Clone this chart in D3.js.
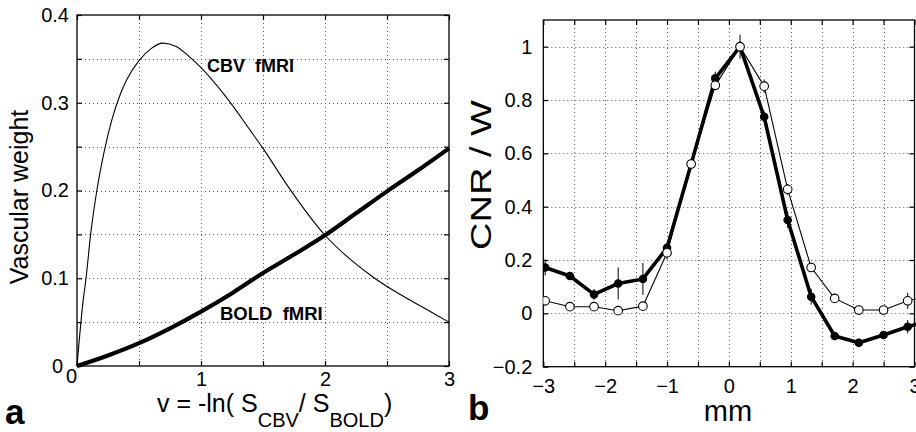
<!DOCTYPE html>
<html><head><meta charset="utf-8">
<script src="https://cdn.jsdelivr.net/npm/d3@7"></script>
<style>
body{margin:0;background:#fff}
svg{display:block}
text{font-family:"Liberation Sans",Arial,Helvetica,sans-serif;fill:#000}
</style>
</head><body><svg id="chart" width="916" height="432"></svg>
<script>
// ---- Panel a data ----
const cbvV = [0, 0.05, 0.073, 0.11, 0.16, 0.22, 0.28, 0.35, 0.4, 0.5, 0.6, 0.69, 0.8, 0.91, 1.0, 1.2, 1.4, 1.5, 1.7, 2.0, 2.2, 2.4, 2.6, 2.8, 3.0];
const cbvW = [0, 0.075, 0.1, 0.15, 0.2, 0.245, 0.28, 0.31, 0.326, 0.348, 0.362, 0.368, 0.364, 0.352, 0.34, 0.307, 0.268, 0.248, 0.205, 0.149, 0.122, 0.1, 0.082, 0.066, 0.05];
const boldV = [0, 0.25, 0.5, 0.75, 1.0, 1.25, 1.5, 1.75, 2.0, 2.25, 2.5, 2.75, 3.0];
const boldW = [0, 0.012, 0.026, 0.043, 0.062, 0.083, 0.106, 0.127, 0.149, 0.174, 0.199, 0.223, 0.248];
const aXTicks = [0, 1, 2, 3];
const aYTicks = [0, 0.1, 0.2, 0.3, 0.4];
const aXMinor = [0, 0.5, 1, 1.5, 2, 2.5, 3];
const aYMinor = [0, 0.05, 0.1, 0.15, 0.2, 0.25, 0.3, 0.35, 0.4];

// ---- Panel b data ----
const mmX     = [-2.97, -2.57, -2.18, -1.79, -1.39, -1.0, -0.61, -0.22, 0.18, 0.57, 0.95, 1.33, 1.71, 2.1, 2.5, 2.89, 3.28];
const openY   = [0.047, 0.025, 0.025, 0.01, 0.027, 0.227, 0.56, 0.855, 1.0, 0.852, 0.465, 0.172, 0.056, 0.0125, 0.0125, 0.047, 0.07];
const filledY = [0.172, 0.14, 0.071, 0.112, 0.129, 0.246, 0.56, 0.881, 1.0, 0.737, 0.35, 0.0625, -0.085, -0.11, -0.081, -0.05, -0.025];
const openErr   = [0.015, 0.01, 0.015, 0.01, 0.01, 0.025, 0.015, 0.015, 0.045, 0.025, 0.02, 0.015, 0.015, 0.01, 0.015, 0.03, 0.02];
const filledErr = [0.03, 0.015, 0.02, 0.06, 0.06, 0.02, 0.015, 0.025, 0.02, 0.02, 0.03, 0.03, 0.015, 0.015, 0.015, 0.025, 0.02];
const bXTicks = [-3, -2, -1, 0, 1, 2, 3];
const bYTicks = [-0.2, 0, 0.2, 0.4, 0.6, 0.8, 1];
const bXMinor = [-3, -2.5, -2, -1.5, -1, -0.5, 0, 0.5, 1, 1.5, 2, 2.5, 3];

const svg = d3.select("#chart");
svg.append("rect").attr("width", 916).attr("height", 432).attr("fill", "#fff");

const snap = v => Math.round(v) + 0.5;
function gridAndFrame(g, x, y, xs, ys) {
  const [x0, x1] = x.range(), [y0, y1] = y.range();
  g.append("g").selectAll("line").data(xs.filter(v => x(v) > x0 + 1 && x(v) < x1 - 1)).join("line")
    .attr("x1", d => snap(x(d))).attr("x2", d => snap(x(d))).attr("y1", y1).attr("y2", y0)
    .attr("stroke", "#555").attr("stroke-width", 1).attr("stroke-dasharray", "1,3");
  g.append("g").selectAll("line").data(ys.filter(v => y(v) < y0 - 1 && y(v) > y1 + 1)).join("line")
    .attr("y1", d => snap(y(d))).attr("y2", d => snap(y(d))).attr("x1", x0).attr("x2", x1)
    .attr("stroke", "#555").attr("stroke-width", 1).attr("stroke-dasharray", "1,3");
}
function styleAxis(ax) {
  ax.select(".domain").remove();
  ax.selectAll(".tick line").attr("stroke", "#000").attr("stroke-width", 1.2);
  ax.selectAll(".tick text").attr("font-size", 20).attr("fill", "#000");
}

// ================= Panel a =================
const xa = d3.scaleLinear().domain([0, 3]).range([77, 449]);
const ya = d3.scaleLinear().domain([0, 0.4]).range([366, 15]);
const ga = svg.append("g");
gridAndFrame(ga, xa, ya, aXMinor, aYMinor);

[[d3.axisBottom(xa).tickValues(aXMinor), `translate(0,366)`],
 [d3.axisTop(xa).tickValues(aXMinor), `translate(0,15)`],
 [d3.axisLeft(ya).tickValues(aYMinor), `translate(77,0)`],
 [d3.axisRight(ya).tickValues(aYMinor), `translate(449,0)`]].forEach(([a, t]) => {
  const ax = ga.append("g").attr("transform", t).call(a.tickSize(-5).tickFormat(""));
  styleAxis(ax);
});
const axaB = ga.append("g").attr("transform", "translate(0,366)")
  .call(d3.axisBottom(xa).tickValues(aXTicks).tickSize(0).tickPadding(6).tickFormat(d3.format("d")));
styleAxis(axaB);
axaB.selectAll(".tick text").filter(d => d === 0).attr("dx", -6).attr("dy", "0.55em");
const axaL = ga.append("g").attr("transform", "translate(77,0)")
  .call(d3.axisLeft(ya).tickValues(aYTicks).tickSize(0).tickPadding(8).tickFormat(d => d === 0 ? "0" : d3.format(".1f")(d)));
styleAxis(axaL);
axaL.selectAll(".tick text").filter(d => d === 0).attr("dx", -6);

ga.append("rect").attr("x", 77).attr("y", 15).attr("width", 372).attr("height", 351)
  .attr("fill", "none").attr("stroke", "#000").attr("stroke-width", 1.3);

const lineA = d3.line().x(d => xa(d[0])).y(d => ya(d[1])).curve(d3.curveMonotoneX);
ga.append("path").datum(cbvV.map((v, i) => [v, cbvW[i]])).attr("d", lineA)
  .attr("fill", "none").attr("stroke", "#000").attr("stroke-width", 1.1);
ga.append("path").datum(boldV.map((v, i) => [v, boldW[i]])).attr("d", lineA)
  .attr("fill", "none").attr("stroke", "#000").attr("stroke-width", 4.2);

ga.append("text").attr("x", 207).attr("y", 72).attr("font-size", 18).attr("font-weight", "bold")
  .style("white-space", "pre").text("CBV  fMRI");
ga.append("text").attr("x", 220).attr("y", 320).attr("font-size", 18.5).attr("font-weight", "bold")
  .style("white-space", "pre").text("BOLD  fMRI");

ga.append("text").attr("transform", "translate(28,197) rotate(-90)").attr("text-anchor", "middle")
  .attr("font-size", 25).text("Vascular weight");

const xl = ga.append("text").attr("x", 157).attr("y", 412).attr("font-size", 25).style("white-space", "pre");
xl.append("tspan").text("v = -ln( S");
xl.append("tspan").attr("dy", 15).attr("font-size", 20).text("CBV");
xl.append("tspan").attr("dy", -15).text("/ S");
xl.append("tspan").attr("dy", 15).attr("font-size", 20).text("BOLD");
xl.append("tspan").attr("dy", -15).text(")");

svg.append("text").attr("x", 5).attr("y", 424).attr("font-size", 35).attr("font-weight", "bold").text("a");

// ================= Panel b =================
const xb = d3.scaleLinear().domain([-3, 3]).range([543.3, 914.5]);
const yb = d3.scaleLinear().domain([-0.2, 1.1]).range([366.7, 20]);
const gb = svg.append("g");
gridAndFrame(gb, xb, yb, bXMinor, bYTicks);

[[d3.axisBottom(xb).tickValues(bXMinor), `translate(0,366.7)`],
 [d3.axisTop(xb).tickValues(bXMinor), `translate(0,20)`],
 [d3.axisLeft(yb).tickValues(bYTicks), `translate(543.3,0)`],
 [d3.axisRight(yb).tickValues(bYTicks), `translate(914.5,0)`]].forEach(([a, t]) => {
  const ax = gb.append("g").attr("transform", t).call(a.tickSize(-5).tickFormat(""));
  styleAxis(ax);
});
const axbB = gb.append("g").attr("transform", "translate(0,366.7)")
  .call(d3.axisBottom(xb).tickValues(bXTicks).tickSize(0).tickPadding(12).tickFormat(d3.format("d")));
styleAxis(axbB);
const axbL = gb.append("g").attr("transform", "translate(543.3,0)")
  .call(d3.axisLeft(yb).tickValues(bYTicks).tickSize(0).tickPadding(11).tickFormat(d => (d === 0 || d === 1) ? String(d) : d3.format(".1f")(d)));
styleAxis(axbL);

gb.append("rect").attr("x", 543.3).attr("y", 20).attr("width", 914.5 - 543.3).attr("height", 346.7)
  .attr("fill", "none").attr("stroke", "#000").attr("stroke-width", 1.3);

svg.append("clipPath").attr("id", "clipb").append("rect")
  .attr("x", 543.3).attr("y", 15).attr("width", 916 - 543.3).attr("height", 360);
const plotB = gb.append("g").attr("clip-path", "url(#clipb)");
const lineB = d3.line().x(d => xb(d[0])).y(d => yb(d[1]));

const filledPts = mmX.map((x, i) => [x, filledY[i], filledErr[i]]);
const openPts = mmX.map((x, i) => [x, openY[i], openErr[i]]);

plotB.append("g").selectAll("line").data(filledPts.concat(openPts)).join("line")
  .attr("x1", d => xb(d[0])).attr("x2", d => xb(d[0]))
  .attr("y1", d => yb(d[1] - d[2])).attr("y2", d => yb(d[1] + d[2]))
  .attr("stroke", "#000").attr("stroke-width", 1);

plotB.append("path").datum(filledPts).attr("d", lineB)
  .attr("fill", "none").attr("stroke", "#000").attr("stroke-width", 3.6).attr("stroke-linejoin", "round");
plotB.append("g").selectAll("circle").data(filledPts).join("circle")
  .attr("cx", d => xb(d[0])).attr("cy", d => yb(d[1])).attr("r", 4.3).attr("fill", "#000");
plotB.append("path").datum(openPts).attr("d", lineB)
  .attr("fill", "none").attr("stroke", "#000").attr("stroke-width", 1.1);
plotB.append("g").selectAll("circle").data(openPts).join("circle")
  .attr("cx", d => xb(d[0])).attr("cy", d => yb(d[1])).attr("r", 4.3)
  .attr("fill", "#fff").attr("stroke", "#000").attr("stroke-width", 1.1);

gb.append("text").attr("transform", "translate(491,175) rotate(-90)").attr("text-anchor", "middle")
  .attr("font-size", 30).attr("textLength", 150).attr("lengthAdjust", "spacingAndGlyphs").text("CNR / W");
gb.append("text").attr("x", 728).attr("y", 421).attr("text-anchor", "middle").attr("font-size", 29).text("mm");
svg.append("text").attr("x", 468).attr("y", 420).attr("font-size", 35).attr("font-weight", "bold").text("b");
</script>
</body></html>
